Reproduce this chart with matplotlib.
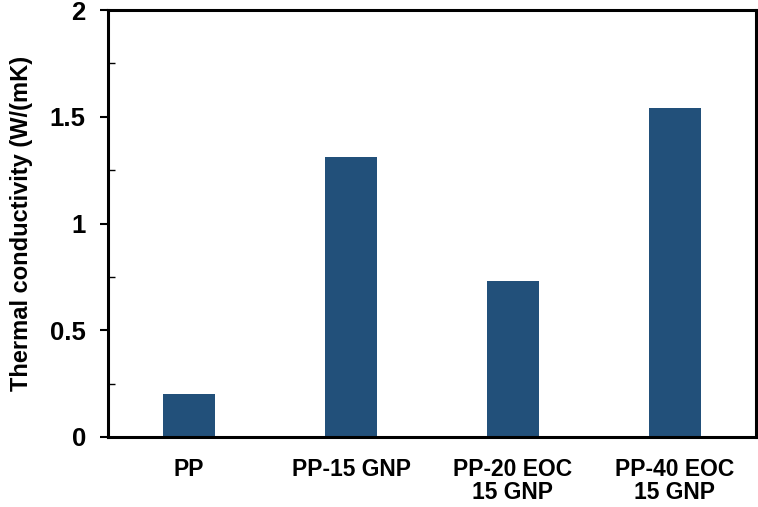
import matplotlib
matplotlib.use("Agg")
import matplotlib.pyplot as plt
from matplotlib.ticker import MultipleLocator

categories = ["PP", "PP-15 GNP", "PP-20 EOC\n15 GNP", "PP-40 EOC\n15 GNP"]
values = [0.20, 1.31, 0.73, 1.54]
yticks = [0, 0.5, 1, 1.5, 2]
ytick_labels = ["0", "0.5", "1", "1.5", "2"]

plt.rcParams['font.family'] = ['Liberation Sans', 'DejaVu Sans']
plt.rcParams['font.weight'] = 'bold'

fig = plt.figure(figsize=(7.58, 5.07), dpi=100)
ax = fig.add_axes([108/758, 1-437/507, (756-108)/758, (437-10)/507])

x = list(range(len(categories)))
ax.bar(x, values, width=0.315, color="#22507A")

ax.set_xlim(-0.5, 3.5)
ax.set_ylim(0, 2)
ax.set_yticks(yticks)
ax.set_yticklabels(ytick_labels, fontsize=18.5, fontweight='bold')
ax.yaxis.set_minor_locator(MultipleLocator(0.25))
ax.tick_params(axis='y', which='major', direction='out', length=6, width=1.5, pad=10)
ax.tick_params(axis='y', which='minor', direction='in', length=5, width=1.0)
ax.set_xticks(x)
ax.set_xticklabels(categories, fontsize=16.5, fontweight='bold', linespacing=1.0)
ax.tick_params(axis='x', which='both', length=0, pad=15)

for s in ax.spines.values():
    s.set_linewidth(2.2)

ax.set_ylabel("Thermal conductivity (W/(mK)", fontsize=17, fontweight='bold', labelpad=12)

fig.savefig("out.png", dpi=100)
